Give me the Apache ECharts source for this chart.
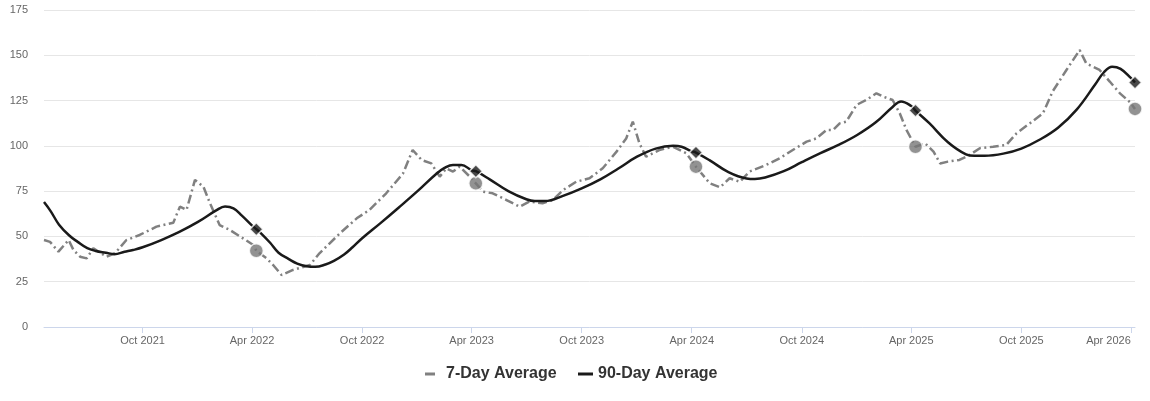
<!DOCTYPE html>
<html>
<head>
<meta charset="utf-8">
<script src="https://cdn.jsdelivr.net/npm/echarts@6/dist/echarts.min.js"></script>
<style>
html,body{margin:0;padding:0;background:#fff;}
#chart{width:1150px;height:401px;}
</style>
</head>
<body>
<div id="chart"></div>
<script>
// ---- data ----
const seriesNames = ['7-Day Average', '90-Day Average'];

const avg7Dates = ['2021-04-20','2021-04-30','2021-05-14','2021-05-31','2021-06-08','2021-06-19','2021-06-30','2021-07-11','2021-08-02','2021-08-16','2021-09-04','2021-09-26','2021-10-24','2021-11-21','2021-12-02','2021-12-13','2021-12-27','2022-01-10','2022-01-21','2022-02-06','2022-02-23','2022-04-03','2022-04-08','2022-04-25','2022-05-06','2022-05-20','2022-06-08','2022-07-06','2022-07-22','2022-08-25','2022-09-22','2022-10-13','2022-11-10','2022-12-08','2022-12-24','2023-01-08','2023-01-24','2023-02-07','2023-02-18','2023-03-01','2023-03-12','2023-03-29','2023-04-08','2023-04-20','2023-05-06','2023-05-29','2023-06-20','2023-07-06','2023-07-28','2023-08-14','2023-08-31','2023-09-22','2023-10-14','2023-11-05','2023-11-28','2023-12-14','2023-12-25','2024-01-05','2024-01-16','2024-02-07','2024-03-01','2024-03-23','2024-04-08','2024-05-01','2024-05-18','2024-06-03','2024-06-20','2024-07-06','2024-08-03','2024-08-25','2024-09-16','2024-10-09','2024-10-25','2024-11-11','2024-11-22','2024-12-03','2024-12-14','2024-12-31','2025-01-16','2025-02-02','2025-02-13','2025-03-01','2025-03-13','2025-03-24','2025-04-08','2025-04-24','2025-05-08','2025-05-19','2025-06-01','2025-06-20','2025-07-07','2025-07-24','2025-08-15','2025-09-06','2025-09-23','2025-10-15','2025-11-06','2025-11-22','2025-12-15','2026-01-06','2026-01-17','2026-02-08','2026-02-25','2026-03-14','2026-03-31','2026-04-08'];
const avg7Values = [48,47,41.6,48,42.5,38.8,37.9,43.5,38.8,40.7,48,50.8,55.4,57.6,66.4,64.6,81.2,77.5,68.3,56.3,53.6,45.3,42.1,37.9,34.2,28.7,31.5,34.2,40.7,51.7,60,64.6,73.8,84.8,97.7,92.2,90.3,83,87.6,85.8,88.5,83,79.3,74.7,73.8,70.1,66.4,69.2,68.3,70.1,75.6,80.2,82.1,87.6,96.8,104.1,113.4,101.4,94,97.7,99.5,95.9,88.5,79.3,77.1,82.1,80.2,85.8,89.5,93.1,97.7,102.3,104.1,108.8,108.8,112.4,113.4,122.6,125.3,129,127.2,125.3,117.9,108.8,99.5,101.4,96.8,90.3,91.3,92.2,95,98.7,99.5,100.5,106.9,112.4,118,130,141.9,152.9,145.5,141.9,135.5,129,124,120.4];

const avg90Dates = ['2021-04-20','2021-05-01','2021-05-15','2021-06-01','2021-06-15','2021-07-01','2021-07-15','2021-08-01','2021-08-15','2021-09-01','2021-09-15','2021-10-01','2021-11-01','2021-12-01','2022-01-01','2022-02-01','2022-02-15','2022-03-01','2022-03-15','2022-04-01','2022-04-08','2022-04-15','2022-05-01','2022-05-15','2022-06-01','2022-06-15','2022-07-01','2022-07-15','2022-08-01','2022-08-15','2022-09-01','2022-09-15','2022-10-01','2022-11-01','2022-12-01','2023-01-01','2023-02-01','2023-02-15','2023-03-01','2023-03-15','2023-04-01','2023-04-08','2023-05-01','2023-06-01','2023-07-01','2023-07-15','2023-08-01','2023-09-01','2023-10-01','2023-11-01','2023-12-01','2024-01-01','2024-02-01','2024-03-01','2024-03-15','2024-04-01','2024-04-08','2024-05-01','2024-06-01','2024-07-01','2024-07-15','2024-08-01','2024-09-01','2024-10-01','2024-11-01','2024-12-01','2025-01-01','2025-02-01','2025-03-01','2025-03-15','2025-04-01','2025-04-08','2025-05-01','2025-06-01','2025-07-01','2025-07-15','2025-08-01','2025-09-01','2025-10-01','2025-11-01','2025-12-01','2026-01-01','2026-02-01','2026-02-15','2026-03-01','2026-03-15','2026-04-01','2026-04-08'];
const avg90Values = [69,64,56.5,50.5,47,43.5,42,41,40.2,41.5,42.5,44,48,52.5,58,64.5,66.5,65.5,61.5,56,54,52,46.5,41,37.5,35,33.5,33.2,34.5,36.5,40,44,49,57.5,66,75,84.5,87.8,89.5,89.5,86.5,86,81.5,75,70.5,69.5,69.5,72.5,76.5,81.5,87.5,94,98.5,100,99.5,97,96.3,92,85.5,82,81.7,82.5,86,91,96,100.5,106,113,121.5,124.5,122,119.5,112.5,102,95.3,94.5,94.5,95.7,98.5,103.5,110,120,134,140.5,143.7,142.5,137.5,135];

// yearly comparison markers (same day each year)
const markerDates = ['2022-04-08','2023-04-08','2024-04-08','2025-04-08','2026-04-08'];
const marker7Values = [42.1,79.3,88.5,99.5,120.4];
const marker90Values = [54,86,96.3,119.5,135];

const xTickDates = ['2021-10-01','2022-04-01','2022-10-01','2023-04-01','2023-10-01','2024-04-01','2024-10-01','2025-04-01','2025-10-01','2026-04-01'];
const monthNames = ['Jan','Feb','Mar','Apr','May','Jun','Jul','Aug','Sep','Oct','Nov','Dec'];
const xMin = '2021-04-20', xMax = '2026-04-08';
const yMin = 0, yMax = 175, yInterval = 25;

// ---- build ----
function ts(s){ const p=s.split('-').map(Number); return Date.UTC(p[0],p[1]-1,p[2]); }
const zip = (d,v) => d.map((x,i)=>[ts(x), v[i]]);
const tickTs = xTickDates.map(ts);

const font = '"Liberation Sans", Arial, sans-serif';
const chart = echarts.init(document.getElementById('chart'));
chart.setOption({
  animation:false,
  textStyle:{fontFamily:font},
  grid:{left:44,right:15,top:10,bottom:74,outerBoundsMode:'none',containLabel:false},
  xAxis:{
    type:'value', min:ts(xMin), max:ts(xMax), scale:true,
    axisLine:{show:true,lineStyle:{color:'#ccd6eb',width:1}},
    axisTick:{show:true,customValues:tickTs,length:6,lineStyle:{color:'#ccd6eb'}},
    axisLabel:{customValues:tickTs,color:'#666',fontSize:11,margin:8,fontFamily:font,hideOverlap:false,
      alignMaxLabel:'right',
      formatter:function(v){const d=new Date(v);return monthNames[d.getUTCMonth()]+' '+d.getUTCFullYear();}},
    splitLine:{show:false}
  },
  yAxis:{
    type:'value', min:yMin, max:yMax, interval:yInterval,
    axisLine:{show:false}, axisTick:{show:false},
    axisLabel:{color:'#666',fontSize:11,margin:16,fontFamily:font},
    splitLine:{lineStyle:{color:'#e6e6e6',width:1}}
  },
  legend:[
    {data:[{name:seriesNames[0],icon:'rect'}],left:420,top:361,itemWidth:10,itemHeight:3,
      textStyle:{fontSize:16,fontWeight:'bold',color:'#333',fontFamily:font,padding:[0,0,0,6]},
      itemStyle:{color:'#808080'}},
    {data:[{name:seriesNames[1],icon:'rect'}],left:573,top:361,itemWidth:15,itemHeight:3,
      textStyle:{fontSize:16,fontWeight:'bold',color:'#333',fontFamily:font},
      itemStyle:{color:'#1a1a1a'}}
  ],
  series:[
    {name:seriesNames[0],type:'line',data:zip(avg7Dates,avg7Values),showSymbol:false,
      lineStyle:{color:'#808080',width:2.5,type:[9,3.5,2,3.5]},itemStyle:{color:'#808080'},z:2},
    {name:seriesNames[1],type:'line',data:zip(avg90Dates,avg90Values),showSymbol:false,smooth:0.4,
      lineStyle:{color:'#1a1a1a',width:2.5},itemStyle:{color:'#1a1a1a'},z:3},
    {name:'m7',type:'scatter',data:zip(markerDates,marker7Values),symbol:'circle',symbolSize:14,
      itemStyle:{color:'#777',borderColor:'#fff',borderWidth:1.5},z:5},
    {name:'m90',type:'scatter',data:zip(markerDates,marker90Values),symbol:'diamond',symbolSize:13,
      itemStyle:{color:'#1a1a1a',borderColor:'#fff',borderWidth:1.5},z:6}
  ]
});
</script>
</body>
</html>
